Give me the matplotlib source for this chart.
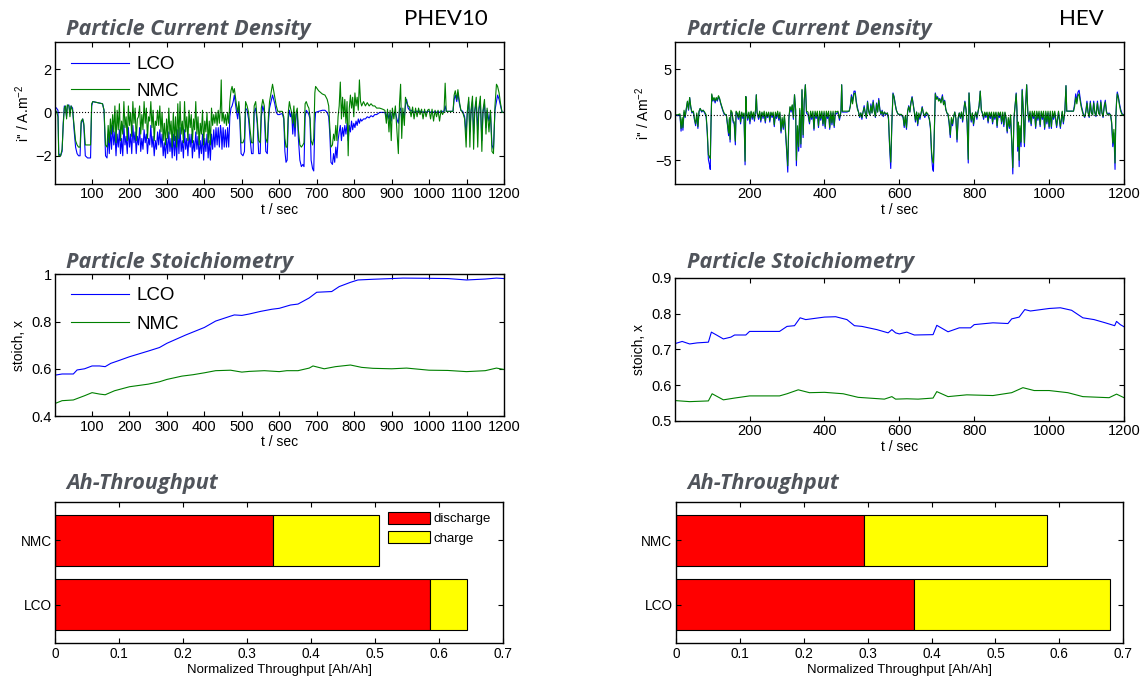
import matplotlib
matplotlib.use("Agg")
import matplotlib.pyplot as plt
from matplotlib.ticker import MultipleLocator

plt.rcParams["font.family"] = ["Liberation Sans", "DejaVu Sans"]
plt.rcParams["mathtext.default"] = "regular"
plt.rcParams["font.size"] = 10
plt.rcParams["xtick.labelsize"] = 10.5
plt.rcParams["ytick.labelsize"] = 10.5
plt.rcParams["xtick.direction"] = "in"
plt.rcParams["ytick.direction"] = "in"
plt.rcParams["xtick.top"] = True
plt.rcParams["ytick.right"] = True
plt.rcParams["xtick.major.size"] = 3.5
plt.rcParams["ytick.major.size"] = 3.5
plt.rcParams["axes.linewidth"] = 1.0

# ---- PHEV10 particle current density [A/m2] ----
phev_t = [
    1, 5, 9, 11, 16, 20, 23, 26, 29, 32,
    34, 38, 41, 44, 48, 52, 56, 60, 64, 68,
    71, 75, 78, 82, 88, 96, 99, 102, 115, 128,
    132, 136, 140, 143, 146, 149, 152, 155, 158, 161,
    164, 167, 170, 173, 176, 179, 182, 185, 188, 191,
    194, 197, 200, 203, 206, 209, 212, 215, 218, 221,
    224, 227, 230, 233, 236, 239, 242, 245, 248, 251,
    254, 257, 260, 263, 266, 269, 272, 275, 278, 281,
    284, 287, 290, 293, 296, 299, 302, 305, 308, 311,
    314, 317, 320, 323, 326, 329, 332, 335, 338, 341,
    344, 347, 350, 353, 356, 359, 362, 365, 368, 371,
    374, 377, 380, 383, 386, 389, 392, 395, 398, 401,
    404, 407, 410, 413, 416, 419, 422, 425, 428, 431,
    434, 437, 440, 443, 445, 447, 450, 453, 456, 459,
    462, 465, 468, 471, 474, 477, 480, 483, 486, 489,
    492, 495, 498, 503, 507, 510, 514, 518, 522, 526,
    530, 533, 537, 541, 545, 549, 552, 556, 560, 564,
    568, 571, 574, 578, 582, 585, 588, 592, 596, 600,
    608, 612, 615, 618, 621, 624, 627, 630, 633, 636,
    639, 642, 645, 648, 651, 655, 659, 663, 666, 669,
    672, 676, 679, 682, 685, 689, 692, 695, 697, 705,
    715, 722, 728, 732, 735, 738, 742, 745, 748, 751,
    754, 757, 760, 763, 766, 769, 772, 775, 778, 781,
    784, 787, 790, 793, 796, 799, 802, 805, 808, 811,
    814, 817, 820, 825, 830, 835, 840, 845, 850, 855,
    860, 868, 876, 882, 886, 889, 893, 896, 899, 902,
    906, 910, 914, 918, 921, 924, 927, 930, 934, 937,
    940, 944, 948, 952, 956, 960, 964, 968, 972, 976,
    980, 984, 988, 992, 996, 1000, 1004, 1008, 1012, 1016,
    1020, 1024, 1028, 1032, 1036, 1040, 1043, 1046, 1064, 1067,
    1070, 1074, 1077, 1081, 1085, 1090, 1095, 1099, 1102, 1106,
    1109, 1112, 1116, 1119, 1122, 1126, 1130, 1133, 1137, 1141,
    1144, 1148, 1152, 1155, 1160, 1164, 1168, 1172, 1176, 1180,
    1183, 1187, 1191, 1195, 1200,
]
phev_lco = [
    0.25, 0.2, 0.1, -1.9, -2.0, -1.8, -0.5, 0.3, 0.2, -0.2,
    0.3, 0.35, 0.0, 0.3, 0.2, -0.8, -1.6, -1.9, -2.0, -2.0,
    -0.5, -0.3, -0.6, -2.0, -2.1, -2.1, 0.3, 0.5, 0.45, 0.4,
    0.1, -2.0, -2.1, -1.0, -1.9, -0.8, -1.7, -0.6, -1.5, -0.9,
    -2.0, -1.0, -1.6, -0.8, -1.9, -1.2, -2.0, -0.6, -1.5, -1.1,
    -1.9, -0.7, -1.6, -1.0, -1.9, -0.6, -1.4, -0.9, -1.9, -1.1,
    -1.5, -0.7, -1.8, -1.2, -1.7, -0.8, -1.4, -1.0, -1.9, -1.2,
    -1.5, -0.6, -1.6, -1.1, -2.0, -1.3, -1.7, -0.9, -1.5, -0.8,
    -1.6, -1.0, -2.0, -1.4, -2.1, -1.2, -1.9, -0.9, -1.8, -1.2,
    -2.1, -1.0, -2.0, -1.1, -2.2, -0.8, -1.9, -0.7, -1.8, -1.3,
    -2.1, -0.8, -1.7, -1.2, -2.0, -1.0, -1.6, -1.0, -2.1, -1.3,
    -1.8, -0.9, -1.7, -1.1, -2.1, -1.3, -1.9, -1.0, -2.2, -1.2,
    -1.8, -1.0, -2.1, -1.3, -2.2, -1.0, -1.7, -0.8, -1.6, -0.7,
    -1.5, -0.7, -1.6, -0.6, -0.9, -1.7, -0.7, -1.6, -0.8, -1.6,
    -0.7, -1.6, -0.2, 0.2, 0.3, 0.5, 0.8, 0.4, 0.0, -0.3,
    0.3, -0.5, -1.9, -2.0, -1.8, 0.2, 0.1, -0.3, -1.2, -1.9,
    -1.9, 0.0, 0.2, -0.5, -1.9, -1.9, -0.2, 0.3, 0.0, -1.8,
    -1.9, -0.5, 0.2, 0.5, 0.8, 0.6, 0.4, 0.0, -0.1, -0.1,
    -0.05, -0.3, -1.8, -2.3, -2.2, -0.3, 0.1, -0.2, 0.0, -1.0,
    -0.1, -1.1, -0.1, 0.0, -1.2, -2.2, -2.5, -2.4, -2.5, -0.2,
    0.1, 0.0, -0.1, -0.3, -2.2, -2.6, -2.7, -0.5, 0.0, 0.05,
    0.1, 0.1, 0.0, -0.2, -1.0, -2.3, -2.4, -1.9, -2.3, -1.6,
    -2.1, -1.3, -0.9, -0.6, -1.3, -0.7, -1.1, -0.6, -1.0, -0.5,
    -1.3, -0.6, -0.9, -0.4, -0.8, -0.5, -0.7, -0.4, -0.6, -0.3,
    -0.5, -0.3, -0.4, -0.3, -0.3, -0.2, -0.25, -0.15, -0.2, -0.1,
    -0.1, 0.0, 0.0, 0.0, -0.2, 0.0, -0.3, 0.0, -0.4, 0.0,
    -0.1, 0.0, -0.3, -0.5, 0.1, 0.2, -0.3, 0.0, -0.2, 0.3,
    0.6, 0.2, 0.1, 0.1, 0.05, 0.0, 0.05, 0.05, 0.05, 0.05,
    0.05, 0.0, 0.05, 0.0, 0.05, 0.05, 0.0, 0.05, 0.0, 0.05,
    0.0, 0.05, 0.0, 0.05, 0.05, 0.05, 0.3, 0.05, 0.05, 0.6,
    0.8, 0.5, 0.9, 0.4, 0.1, 0.05, -0.2, -1.0, 0.0, 0.5,
    -0.9, 0.0, 0.5, -1.0, 0.0, 0.5, -0.8, 0.1, 0.5, -1.3,
    0.0, 0.4, -0.7, 0.1, -0.4, 0.0, -1.5, -1.7, 0.1, 0.5,
    0.8, 0.6, 0.3, 0.0, 0.0,
]
phev_nmc = [
    0.1, 0.05, -0.2, -2.0, -2.0, -1.7, -0.6, 0.2, 0.3, -0.3,
    0.35, 0.3, -0.2, 0.3, 0.1, -0.6, -1.3, -1.5, -1.6, -1.6,
    -0.4, -0.3, -0.5, -1.5, -1.5, -1.5, 0.4, 0.5, 0.45, 0.4,
    0.1, -1.5, -1.6, -0.6, -1.4, -0.3, -1.0, -0.1, -0.9, 0.3,
    -1.4, 0.1, -0.8, 0.4, -1.3, -0.4, -1.0, 0.5, -0.7, -0.2,
    -1.3, 0.3, -0.6, 0.0, -1.1, 0.5, -0.5, 0.2, -1.3, -0.3,
    -0.2, 0.3, -1.0, -0.1, -0.8, 0.5, -0.5, 0.2, -1.2, -0.2,
    -0.4, 0.5, -0.7, 0.1, -1.3, -0.4, -0.6, 0.1, -0.6, 0.3,
    -0.9, 0.0, -1.3, -0.5, -1.5, -0.3, -1.2, 0.2, -1.0, -0.4,
    -1.6, 0.0, -1.3, -0.2, -1.6, 0.4, -1.2, 0.5, -1.0, -0.4,
    -1.4, 0.5, -0.9, -0.2, -1.3, 0.1, -0.7, -0.1, -1.4, -0.3,
    -0.8, 0.5, -1.0, -0.2, -1.5, -0.5, -1.0, 0.1, -1.5, -0.4,
    -0.9, 0.0, -1.4, -0.4, -1.5, 0.2, -0.6, -0.1, -0.5, 0.0,
    -0.6, 0.1, -0.5, 0.3, 1.5, -0.4, 0.0, -0.5, -0.1, -0.6,
    0.0, -0.5, 0.5, 1.0, 1.2, 0.9, 1.1, 0.7, 0.3, 0.0,
    0.5, -0.2, -1.4, -1.4, -1.2, 0.5, 0.3, 0.0, -0.8, -1.4,
    -1.4, 0.3, 0.5, -0.3, -1.3, -1.4, 0.2, 0.6, 0.3, -1.2,
    -1.4, -0.2, 0.5, 0.9, 1.3, 1.0, 0.7, 0.3, 0.05, 0.05,
    0.05, -0.2, -1.2, -1.6, -1.6, 0.0, 0.5, 0.2, 0.0, -0.5,
    0.3, -0.7, 0.0, 0.2, -0.8, -1.5, -1.6, -1.5, -1.4, 0.4,
    0.5, 0.3, 0.2, -0.2, -1.3, -1.5, -1.2, 0.9, 1.2, 1.0,
    0.85, 0.8, 0.6, 0.3, -0.7, -1.6, -1.5, -1.0, -1.3, -0.6,
    -1.3, -0.2, 0.3, 1.4, -0.3, 0.7, -0.2, 0.6, -0.5, 0.5,
    -2.0, 0.2, 0.8, 0.2, 0.7, -0.2, 0.9, 0.3, 0.7, 0.1,
    1.5, 0.5, 0.3, 0.5, 0.3, 0.45, 0.3, 0.4, 0.3, 0.3,
    0.2, 0.2, 0.15, 0.1, -0.5, 0.15, -0.9, 0.1, -1.3, 0.2,
    -0.3, 0.3, -0.8, -1.9, 0.4, 1.3, -1.2, 0.2, -0.6, 0.7,
    0.5, 0.3, 0.25, -0.2, 0.25, -0.3, 0.2, -0.2, 0.2, -0.1,
    0.15, -0.3, 0.15, -0.2, 0.1, 0.15, -0.3, 0.15, -0.4, 0.1,
    -0.2, 0.1, -0.4, 0.1, -0.1, 0.05, 1.35, 0.05, 0.05, 0.8,
    1.0, 0.6, 1.05, 0.5, 0.1, 0.0, -0.3, -1.6, 0.0, 0.7,
    -1.6, 0.1, 0.75, -1.7, 0.1, 0.7, -1.6, 0.2, 0.75, -1.8,
    0.1, 0.6, -1.0, 0.2, -0.9, 0.1, -1.8, -1.9, 0.3, 1.3,
    1.2, 0.9, 0.4, 0.0, 0.0,
]

# ---- HEV particle current density [A/m2] ----
hev_t = [
    1, 8, 14, 17, 20, 22, 25, 28, 31, 34,
    37, 40, 43, 46, 50, 53, 56, 59, 62, 65,
    68, 72, 76, 80, 84, 87, 90, 93, 95, 97,
    99, 102, 105, 108, 111, 114, 117, 120, 123, 126,
    129, 133, 138, 141, 144, 146, 148, 150, 153, 156,
    159, 162, 164, 167, 170, 173, 176, 179, 182, 185,
    188, 190, 192, 195, 198, 201, 204, 207, 210, 213,
    216, 218, 220, 224, 227, 230, 233, 236, 239, 242,
    245, 248, 251, 254, 257, 260, 263, 266, 269, 272,
    275, 278, 281, 284, 287, 290, 293, 296, 299, 302,
    305, 308, 311, 314, 317, 320, 323, 325, 328, 331,
    334, 337, 340, 343, 346, 349, 352, 356, 360, 363,
    366, 369, 372, 375, 378, 381, 384, 387, 390, 393,
    396, 399, 402, 405, 408, 411, 414, 417, 420, 423,
    426, 429, 432, 436, 440, 444, 446, 448, 460, 466,
    469, 472, 475, 479, 482, 485, 488, 491, 494, 497,
    500, 503, 506, 509, 512, 515, 518, 521, 524, 527,
    530, 533, 536, 539, 542, 545, 548, 551, 554, 557,
    560, 564, 568, 571, 574, 577, 580, 583, 586, 589,
    592, 596, 600, 605, 610, 613, 616, 619, 622, 625,
    628, 631, 634, 637, 640, 643, 646, 649, 652, 655,
    658, 661, 664, 668, 672, 676, 680, 683, 686, 689,
    691, 694, 696, 699, 702, 705, 708, 711, 715, 718,
    721, 724, 727, 730, 733, 736, 739, 742, 745, 748,
    751, 754, 757, 760, 763, 766, 769, 772, 775, 778,
    781, 784, 786, 789, 792, 795, 798, 801, 804, 807,
    810, 813, 816, 819, 822, 825, 828, 831, 834, 837,
    840, 843, 846, 849, 852, 855, 858, 861, 864, 867,
    870, 873, 876, 879, 882, 885, 888, 891, 894, 897,
    900, 903, 906, 909, 912, 914, 916, 918, 920, 922,
    925, 928, 931, 934, 937, 940, 943, 946, 949, 952,
    955, 958, 961, 964, 967, 970, 973, 976, 979, 982,
    985, 988, 991, 994, 997, 1000, 1003, 1006, 1009, 1012,
    1015, 1020, 1025, 1030, 1035, 1038, 1042, 1045, 1047, 1065,
    1068, 1071, 1074, 1077, 1080, 1083, 1086, 1089, 1092, 1095,
    1098, 1101, 1104, 1107, 1110, 1113, 1116, 1119, 1122, 1125,
    1129, 1132, 1135, 1138, 1141, 1144, 1147, 1150, 1153, 1156,
    1160, 1164, 1167, 1170, 1173, 1176, 1178, 1180, 1182, 1185,
    1188, 1191, 1195, 1200,
]
hev_lco = [
    0.0, -0.1, 0.0, -1.8, -0.5, -1.7, 0.3, -0.3, 0.6, 1.4,
    0.5, 1.9, 0.8, 0.2, 0.3, -0.6, -1.2, 0.0, -1.5, 0.3,
    0.7, 0.3, 0.5, 0.2, -0.2, -2.0, -4.9, -5.5, -6.0, -1.0,
    2.2, 1.5, 1.8, 1.3, 1.8, 1.5, 2.0, 1.7, 1.2, 0.8,
    0.4, 0.0, 0.0, -1.2, -2.3, -0.5, -3.0, 0.3, 0.2, -0.8,
    -1.0, -3.3, 0.3, 0.1, -0.5, 0.3, -1.0, 0.2, -0.4, 0.1,
    -5.5, 2.0, 0.2, -0.6, 0.2, -1.0, 0.3, -0.5, 0.1, -0.7,
    0.5, 2.2, 0.2, -0.5, 0.2, -0.8, 0.2, -0.4, 0.2, -0.9,
    0.1, -0.3, 0.2, -0.8, 0.2, -0.3, 0.1, -1.3, 0.1, -0.4,
    0.2, -0.6, 0.1, -2.0, -0.5, -1.6, -0.2, -2.0, -4.0, -6.3,
    -0.5, 0.8, 0.3, 1.0, -0.5, 2.2, 0.5, -5.6, -1.5, -4.0,
    0.5, -3.6, 2.7, -2.5, 1.5, 3.3, 0.2, 0.0, -1.0, 0.2,
    -0.5, 0.2, -1.7, 0.2, -0.4, 0.2, -1.4, 0.2, -0.6, 0.2,
    -1.2, 0.2, -1.5, 0.2, -0.4, 0.2, -1.6, 0.2, -1.1, 0.2,
    -1.4, 0.2, 0.1, 0.3, -0.6, 0.3, 3.3, 0.3, 0.3, 0.4,
    1.0, 2.2, 1.5, 2.6, 2.6, 1.5, 0.8, 0.3, -0.3, 0.2,
    -0.5, 0.3, 1.0, 0.2, -0.4, 1.5, 0.4, 0.0, 1.2, 0.2,
    1.6, 0.5, -0.3, 1.3, 0.3, 1.8, 0.6, 0.0, 0.5, -0.2,
    0.3, 0.0, 0.2, -0.5, -3.6, -5.9, -1.0, 2.4, 2.0, 1.2,
    0.5, 0.1, 0.0, 0.0, -0.3, -1.4, -0.2, -1.6, 0.3, 1.0,
    0.3, 1.4, 2.0, 1.2, 0.3, -0.8, 0.3, -1.2, 0.0, -0.5,
    0.1, 0.9, 0.2, -0.3, 0.2, 0.0, -0.5, -1.5, -4.5, -6.0,
    -6.2, -1.0, 2.4, 1.8, 2.0, 1.6, 1.8, 1.4, 2.2, 1.2,
    1.6, 0.6, 0.2, 0.0, -1.0, -2.5, -0.5, -1.2, -0.3, 0.3,
    -0.5, -3.0, -0.5, 0.2, -0.4, 0.3, -0.8, 0.5, 1.5, 0.6,
    -1.0, -5.3, 2.4, 0.3, -0.8, 0.2, -1.2, -0.3, 0.3, -0.5,
    0.3, 1.0, 2.6, 0.5, 0.1, -0.5, 0.2, -0.3, 0.2, -0.9,
    0.1, -0.4, 0.2, -1.0, 0.1, -0.5, 0.2, -1.4, 0.1, -0.3,
    0.2, -1.0, 0.1, -1.3, 0.2, -0.5, -2.0, -0.5, -1.5, -0.2,
    -3.0, -6.5, -0.5, 1.0, 2.4, 0.5, -4.0, -1.0, -5.7, -1.5,
    -3.5, 2.8, 0.5, -3.5, 0.8, 3.3, 0.3, -0.8, 0.2, -1.2,
    0.2, -0.4, 0.2, -1.5, 0.2, -0.6, 0.2, -1.3, 0.2, -0.5,
    0.2, -1.6, 0.2, -1.0, 0.2, -1.5, 0.2, -1.5, 0.2, -0.5,
    0.2, -1.4, 0.3, -1.5, 0.3, -1.0, 0.4, 3.2, 0.4, 0.4,
    1.2, 2.3, 1.5, 2.5, 2.7, 1.8, 1.0, 0.5, 0.0, -0.3,
    0.4, 1.5, 0.3, -0.3, 1.5, 0.2, 0.0, 1.5, 0.3, -0.2,
    1.5, 0.2, 0.0, 1.6, 0.3, -0.3, 1.0, 1.6, 0.4, 0.0,
    0.2, 0.0, -1.0, -3.5, -2.0, -6.0, -0.5, 1.5, 2.5, 2.0,
    1.2, 0.6, 0.1, 0.0,
]
hev_nmc = [
    0.0, 0.0, 0.1, -1.5, -0.3, -1.4, 0.5, -0.2, 0.7, 1.5,
    0.6, 1.9, 0.9, 0.3, 0.4, -0.5, -1.0, 0.2, -1.3, 0.4,
    0.7, 0.4, 0.5, 0.3, 0.0, -1.8, -4.4, -4.6, -4.8, -0.8,
    2.3, 1.6, 1.9, 1.5, 1.9, 1.6, 2.1, 1.8, 1.3, 0.9,
    0.5, 0.1, 0.0, -1.0, -2.0, -0.3, -2.7, 0.5, 0.3, -0.6,
    -0.8, -2.9, 0.4, 0.2, -0.3, 0.4, -0.8, 0.3, -0.2, 0.2,
    -5.1, 2.0, 0.3, -0.4, 0.3, -0.7, 0.4, -0.3, 0.3, -0.5,
    0.6, 2.2, 0.3, -0.3, 0.4, -0.6, 0.3, -0.2, 0.4, -0.7,
    0.3, -0.2, 0.3, -0.6, 0.3, -0.1, 0.3, -1.1, 0.3, -0.2,
    0.4, -0.4, 0.3, -1.8, -0.3, -1.4, 0.0, -1.7, -3.6, -5.6,
    -0.3, 0.9, 0.5, 1.1, -0.3, 2.2, 0.6, -5.0, -1.2, -3.5,
    0.7, -3.2, 2.8, -2.2, 1.6, 3.3, 0.4, 0.3, -0.8, 0.4,
    -0.3, 0.4, -1.5, 0.4, -0.2, 0.4, -1.2, 0.4, -0.4, 0.4,
    -1.0, 0.4, -1.3, 0.4, -0.2, 0.4, -1.4, 0.4, -0.9, 0.4,
    -1.2, 0.4, 0.3, 0.4, -0.4, 0.4, 3.3, 0.4, 0.4, 0.4,
    0.9, 2.0, 1.2, 2.3, 2.4, 1.3, 0.6, 0.3, -0.2, 0.2,
    -0.3, 0.3, 0.8, 0.2, -0.3, 1.4, 0.4, 0.0, 1.0, 0.2,
    1.4, 0.4, -0.2, 1.2, 0.3, 1.6, 0.5, 0.1, 0.4, 0.0,
    0.3, 0.1, 0.2, -0.3, -3.3, -5.2, -0.8, 2.3, 1.9, 1.1,
    0.5, 0.1, 0.05, 0.05, -0.2, -1.2, -0.1, -1.4, 0.4, 0.9,
    0.3, 1.3, 1.9, 1.1, 0.3, -0.6, 0.3, -1.0, 0.2, -0.3,
    0.2, 0.8, 0.2, -0.1, 0.3, 0.1, -0.4, -1.3, -4.0, -5.1,
    -5.3, -0.8, 2.3, 1.7, 1.9, 1.5, 1.7, 1.3, 2.0, 1.1,
    1.5, 0.6, 0.2, 0.1, -0.8, -2.2, -0.3, -1.0, -0.2, 0.3,
    -0.4, -2.7, -0.3, 0.2, -0.3, 0.3, -0.6, 0.5, 1.4, 0.6,
    -0.8, -4.9, 2.4, 0.3, -0.6, 0.2, -1.0, -0.1, 0.3, -0.3,
    0.3, 1.0, 2.6, 0.5, 0.2, -0.3, 0.3, -0.1, 0.3, -0.7,
    0.3, -0.2, 0.3, -0.8, 0.3, -0.3, 0.3, -1.2, 0.3, -0.1,
    0.3, -0.8, 0.3, -1.1, 0.3, -0.3, -1.8, -0.3, -1.3, 0.0,
    -2.7, -5.8, -0.3, 1.0, 2.3, 0.5, -3.5, -0.8, -5.0, -1.2,
    -3.0, 2.7, 0.5, -3.1, 0.8, 3.3, 0.4, -0.6, 0.4, -1.0,
    0.4, -0.2, 0.4, -1.3, 0.4, -0.4, 0.4, -1.1, 0.4, -0.3,
    0.4, -1.4, 0.4, -0.8, 0.4, -1.3, 0.4, -1.3, 0.4, -0.3,
    0.4, -1.2, 0.4, -1.3, 0.4, -0.8, 0.4, 3.2, 0.4, 0.4,
    0.9, 1.9, 1.2, 2.1, 2.3, 1.5, 0.8, 0.3, -0.1, -0.2,
    0.3, 1.3, 0.2, -0.2, 1.3, 0.2, 0.0, 1.3, 0.2, -0.1,
    1.3, 0.2, 0.0, 1.4, 0.2, -0.2, 0.8, 1.4, 0.3, 0.0,
    0.1, 0.0, -0.8, -3.1, -1.6, -5.3, -0.3, 1.3, 2.3, 1.8,
    1.0, 0.4, 0.0, 0.0,
]

# ---- particle stoichiometry ----
phev_x_lco_t = [1, 20, 50, 60, 80, 100, 120, 135, 150, 170, 200, 250, 280, 300, 350,
                400, 430, 470, 480, 500, 520, 550, 580, 600, 630, 650, 680, 700, 740,
                760, 790, 810, 850, 900, 930, 1000, 1050, 1100, 1150, 1180, 1200]
phev_x_lco = [0.573, 0.578, 0.578, 0.595, 0.60, 0.612, 0.612, 0.609, 0.623, 0.634,
              0.651, 0.675, 0.69, 0.708, 0.743, 0.775, 0.802, 0.823, 0.828, 0.826,
              0.832, 0.843, 0.852, 0.856, 0.87, 0.874, 0.90, 0.924, 0.927, 0.948,
              0.966, 0.976, 0.979, 0.982, 0.984, 0.983, 0.982, 0.976, 0.98, 0.984, 0.982]
phev_x_nmc_t = [1, 20, 50, 80, 100, 120, 135, 160, 200, 250, 280, 300, 340, 370, 400,
                430, 470, 500, 520, 560, 600, 620, 650, 680, 690, 720, 750, 790, 820,
                850, 900, 940, 1000, 1050, 1100, 1150, 1180, 1200]
phev_x_nmc = [0.453, 0.465, 0.468, 0.486, 0.499, 0.493, 0.49, 0.507, 0.524, 0.535,
              0.545, 0.555, 0.569, 0.575, 0.583, 0.592, 0.594, 0.586, 0.589, 0.592,
              0.588, 0.592, 0.592, 0.603, 0.612, 0.60, 0.609, 0.616, 0.606, 0.602,
              0.60, 0.603, 0.594, 0.593, 0.588, 0.592, 0.603, 0.597]

hev_x_lco_t = [1, 20, 40, 60, 90, 98, 110, 130, 150, 160, 190, 200, 280, 300, 320,
               335, 350, 400, 430, 460, 480, 500, 540, 570, 580, 590, 600, 620, 640,
               690, 700, 730, 760, 790, 800, 850, 890, 900, 920, 935, 950, 1000, 1030,
               1060, 1090, 1120, 1150, 1175, 1180, 1190, 1200]
hev_x_lco = [0.716, 0.722, 0.715, 0.718, 0.72, 0.748, 0.741, 0.729, 0.734, 0.74,
             0.74, 0.75, 0.75, 0.764, 0.766, 0.788, 0.783, 0.79, 0.791, 0.783,
             0.766, 0.764, 0.755, 0.746, 0.755, 0.746, 0.743, 0.748, 0.74, 0.741,
             0.767, 0.749, 0.76, 0.76, 0.769, 0.774, 0.772, 0.785, 0.79, 0.811,
             0.807, 0.814, 0.816, 0.809, 0.788, 0.783, 0.774, 0.766, 0.778, 0.769, 0.763]
hev_x_nmc_t = [1, 40, 90, 100, 130, 160, 200, 280, 300, 330, 360, 400, 450, 490, 560,
               580, 590, 620, 650, 690, 700, 730, 780, 850, 900, 930, 960, 1000, 1050,
               1090, 1160, 1180, 1200]
hev_x_nmc = [0.557, 0.554, 0.556, 0.576, 0.559, 0.564, 0.57, 0.57, 0.576, 0.587,
             0.579, 0.58, 0.576, 0.566, 0.561, 0.568, 0.561, 0.562, 0.561, 0.564,
             0.582, 0.568, 0.573, 0.571, 0.579, 0.593, 0.585, 0.585, 0.579, 0.568,
             0.565, 0.575, 0.565]

# ---- Ah-throughput ----
materials = ["LCO", "NMC"]
phev_discharge = [0.585, 0.341]
phev_charge = [0.059, 0.165]
hev_discharge = [0.373, 0.295]
hev_charge = [0.307, 0.286]

BLUE = "#0000ff"
GREEN = "#008000"
TITLE_GRAY = "#50545b"

fig = plt.figure(figsize=(11.43, 6.88), dpi=100)


def title(x, y, s):
    fig.text(x, y, s, family="Open Sans", weight="bold", style="italic",
             color=TITLE_GRAY, fontsize=15.6, va="baseline")


def time_axis(ax, step):
    ax.set_xlim(1, 1200)
    ax.xaxis.set_major_locator(MultipleLocator(step))
    ax.set_xlabel("t / sec", labelpad=1)
    ax.tick_params(pad=2.5)


# current density
ax1 = fig.add_axes([0.0481, 0.7326, 0.3928, 0.2064])
ax1.plot(phev_t, phev_lco, color=BLUE, lw=0.8, label="LCO")
ax1.plot(phev_t, phev_nmc, color=GREEN, lw=0.8, label="NMC")
ax1.axhline(0, color="k", ls=":", lw=0.8, zorder=5)
ax1.set_ylim(-3.3, 3.25)
ax1.set_yticks([-2, 0, 2])
time_axis(ax1, 100)
ax1.set_ylabel("i'' / A.m$^{-2}$", labelpad=2)
ax1.legend(loc="upper left", bbox_to_anchor=(0.035, 0.90), frameon=False,
           fontsize=13.5, handlelength=3.1, handletextpad=0.4,
           labelspacing=0.5, borderpad=0, borderaxespad=0)

ax2 = fig.add_axes([0.5906, 0.7326, 0.3928, 0.2064])
ax2.plot(hev_t, hev_lco, color=BLUE, lw=0.8)
ax2.plot(hev_t, hev_nmc, color=GREEN, lw=0.8)
ax2.axhline(0, color="k", ls=":", lw=0.8, zorder=5)
ax2.set_ylim(-7.6, 8)
ax2.set_yticks([-5, 0, 5])
time_axis(ax2, 200)
ax2.set_ylabel("i'' / Am$^{-2}$", labelpad=2)

# stoichiometry
ax3 = fig.add_axes([0.0481, 0.3953, 0.3928, 0.2060])
ax3.plot(phev_x_lco_t, phev_x_lco, color=BLUE, lw=0.8, label="LCO")
ax3.plot(phev_x_nmc_t, phev_x_nmc, color=GREEN, lw=0.8, label="NMC")
ax3.set_ylim(0.4, 1.0)
ax3.set_yticks([0.4, 0.6, 0.8, 1.0])
ax3.set_yticklabels(["0.4", "0.6", "0.8", "1"])
time_axis(ax3, 100)
ax3.set_ylabel("stoich, x", labelpad=4)
ax3.legend(loc="upper left", bbox_to_anchor=(0.035, 0.91), frameon=False,
           fontsize=13.5, handlelength=3.1, handletextpad=0.4,
           labelspacing=0.62, borderpad=0, borderaxespad=0)

ax4 = fig.add_axes([0.5906, 0.3881, 0.3928, 0.2083])
ax4.plot(hev_x_lco_t, hev_x_lco, color=BLUE, lw=0.8)
ax4.plot(hev_x_nmc_t, hev_x_nmc, color=GREEN, lw=0.8)
ax4.set_ylim(0.5, 0.9)
ax4.set_yticks([0.5, 0.6, 0.7, 0.8, 0.9])
time_axis(ax4, 200)
ax4.set_ylabel("stoich, x", labelpad=4)


# Ah-throughput, stacked horizontal bars
def throughput(ax, dis, chg, legend=False):
    ypos = [1, 2]
    ax.barh(ypos, dis, height=0.8, color="#ff0000", edgecolor="k", lw=0.8, label="discharge")
    ax.barh(ypos, chg, left=dis, height=0.8, color="#ffff00", edgecolor="k", lw=0.8, label="charge")
    ax.set_xlim(0, 0.7)
    ax.set_ylim(0.4, 2.6)
    ax.set_yticks(ypos)
    ax.set_yticklabels(materials)
    ax.set_xticks([0, 0.1, 0.2, 0.3, 0.4, 0.5, 0.6, 0.7])
    ax.set_xticklabels(["0", "0.1", "0.2", "0.3", "0.4", "0.5", "0.6", "0.7"])
    ax.set_xlabel("Normalized Throughput [Ah/Ah]", fontsize=9.5, labelpad=2)
    ax.tick_params(labelsize=9.8, pad=2.5)
    if legend:
        ax.legend(loc="upper left", bbox_to_anchor=(0.743, 0.93), frameon=False,
                  fontsize=9.5, handlelength=3.2, handleheight=1.05,
                  handletextpad=0.25, labelspacing=0.45, borderpad=0,
                  borderaxespad=0)


ax5 = fig.add_axes([0.0481, 0.0650, 0.3922, 0.2058])
throughput(ax5, phev_discharge, phev_charge, legend=True)
ax6 = fig.add_axes([0.5914, 0.0650, 0.3913, 0.2058])
throughput(ax6, hev_discharge, hev_charge)

title(66 / 1143, 1 - 35 / 688, "Particle Current Density")
title(687 / 1143, 1 - 35 / 688, "Particle Current Density")
title(66 / 1143, 1 - 268 / 688, "Particle Stoichiometry")
title(687 / 1143, 1 - 268 / 688, "Particle Stoichiometry")
title(66 / 1143, 1 - 489 / 688, "Ah-Throughput")
title(687 / 1143, 1 - 489 / 688, "Ah-Throughput")

fig.text(404 / 1143, 1 - 25 / 688, "PHEV10", family="Lato", fontsize=16, va="baseline")
fig.text(1059 / 1143, 1 - 25 / 688, "HEV", family="Lato", fontsize=16, va="baseline")

fig.savefig("out.png", dpi=100)
